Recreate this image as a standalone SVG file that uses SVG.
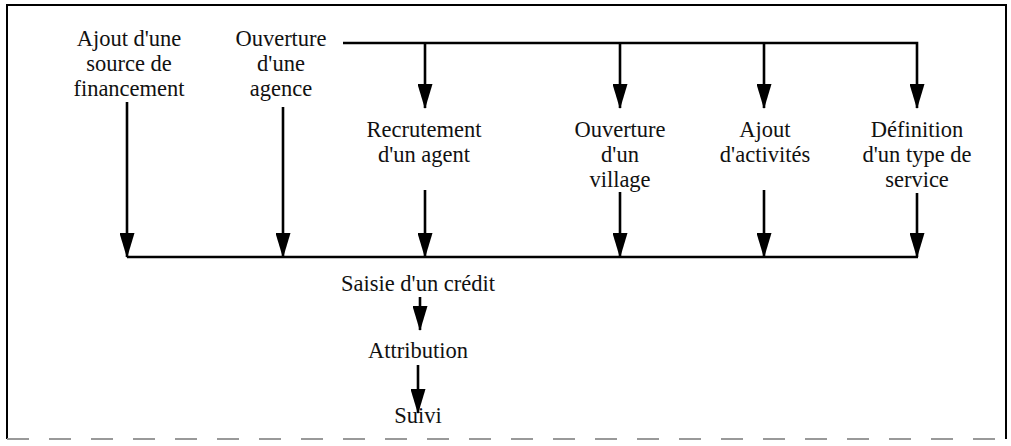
<svg xmlns="http://www.w3.org/2000/svg" width="1011" height="446" viewBox="0 0 1011 446">
  <style>
    .lbl { font-family: "Liberation Serif", "DejaVu Serif", serif; font-size: 22.5px; fill: #111; text-anchor: middle; }
    .ln { stroke: #000; stroke-width: 2.6; fill: none; }
    .arr { stroke: #000; stroke-width: 2.6; fill: none; marker-end: url(#ah); }
  </style>
  <defs>
    <marker id="ah" markerUnits="userSpaceOnUse" markerWidth="25" markerHeight="15" viewBox="0 0 25 15" refX="24" refY="7.5" orient="auto">
      <path d="M0,0 L25,7.5 L0,15 Z" fill="#000"/>
    </marker>
  </defs>
  <rect width="1011" height="446" fill="#fff"/>
  <g id="frame">
    <path d="M7,439 V5 H1006 V439" fill="none" stroke="#000" stroke-width="2"/>
    <line x1="7" y1="439" x2="1006" y2="439" stroke="#999" stroke-width="2" stroke-dasharray="22,20"/>
  </g>
  <g id="connectors">
    <path class="arr" d="M343,43 H917 V108"/>
    <line class="arr" x1="425" y1="43" x2="425" y2="108"/>
    <line class="arr" x1="620" y1="43" x2="620" y2="108"/>
    <line class="arr" x1="764" y1="43" x2="764" y2="108"/>
    <line class="ln" x1="127" y1="257" x2="918" y2="257"/>
    <line class="arr" x1="127" y1="102" x2="127" y2="257"/>
    <line class="arr" x1="283" y1="107" x2="283" y2="257"/>
    <line class="arr" x1="425" y1="190" x2="425" y2="257"/>
    <line class="arr" x1="620" y1="192" x2="620" y2="257"/>
    <line class="arr" x1="764" y1="190" x2="764" y2="257"/>
    <line class="arr" x1="917" y1="193" x2="917" y2="257"/>
    <line class="arr" x1="420" y1="297" x2="420" y2="330"/>
    <line class="arr" x1="418" y1="365" x2="418" y2="413"/>
  </g>
  <g id="n-source">
    <text class="lbl" x="129" y="46">Ajout d'une</text>
    <text class="lbl" x="129" y="71">source de</text>
    <text class="lbl" x="129" y="96">financement</text>
  </g>
  <g id="n-agence">
    <text class="lbl" x="281" y="46">Ouverture</text>
    <text class="lbl" x="281" y="71">d'une</text>
    <text class="lbl" x="281" y="96">agence</text>
  </g>
  <g id="n-agent">
    <text class="lbl" x="424" y="137">Recrutement</text>
    <text class="lbl" x="424" y="162">d'un agent</text>
  </g>
  <g id="n-village">
    <text class="lbl" x="620" y="137">Ouverture</text>
    <text class="lbl" x="620" y="162">d'un</text>
    <text class="lbl" x="620" y="187">village</text>
  </g>
  <g id="n-activites">
    <text class="lbl" x="765" y="137">Ajout</text>
    <text class="lbl" x="765" y="162">d'activités</text>
  </g>
  <g id="n-service">
    <text class="lbl" x="917" y="137">Définition</text>
    <text class="lbl" x="917" y="162">d'un type de</text>
    <text class="lbl" x="917" y="187">service</text>
  </g>
  <g id="n-credit">
    <text class="lbl" x="418" y="291">Saisie d'un crédit</text>
  </g>
  <g id="n-attribution">
    <text class="lbl" x="418" y="358">Attribution</text>
  </g>
  <g id="n-suivi">
    <text class="lbl" x="418" y="423">Suivi</text>
  </g>
</svg>
